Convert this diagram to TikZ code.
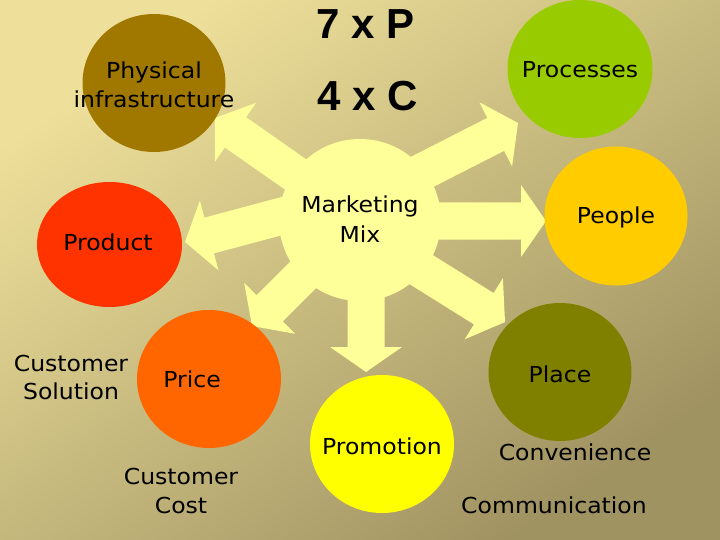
\documentclass[tikz,border=0pt]{standalone}
\usepackage{fontspec}
\setmainfont[FakeStretch=1.07]{DejaVu Sans}
\newfontfamily\titlefont{Liberation Sans}
\usetikzlibrary{shapes.geometric}
\definecolor{bgA}{RGB}{238,224,154}
\definecolor{bgB}{RGB}{160,147,98}
\definecolor{mixyel}{RGB}{255,255,153}
\definecolor{cPhys}{RGB}{160,120,0}
\definecolor{cProc}{RGB}{153,204,0}
\definecolor{cPeop}{RGB}{255,204,0}
\definecolor{cProd}{RGB}{255,51,0}
\definecolor{cPric}{RGB}{255,102,0}
\definecolor{cProm}{RGB}{255,255,0}
\definecolor{cPlac}{RGB}{128,128,0}
\newcommand\mixarrow[3]{%
  \fill[mixyel, shift={(#1,#2)}, rotate=#3]
    (0,0) -- (-25,36) -- (-25,18.5) -- (-175,18.5) -- (-175,-18.5)
    -- (-25,-18.5) -- (-25,-36) -- cycle;}
\begin{document}
\begin{tikzpicture}[x=1pt,y=-1pt,
  lbl/.style={anchor=base, inner sep=0pt, text=black,
    font=\fontsize{22}{26}\selectfont},
  ttl/.style={anchor=base, inner sep=0pt, text=black,
    font=\titlefont\bfseries\fontsize{42}{48}\selectfont},
  bubble/.style={ellipse, draw=none, inner sep=0pt}]
\useasboundingbox (0,0) rectangle (720,540);
\shade[top color=bgA, bottom color=bgB, shading angle=35] (0,0) rectangle (720,540);

% star: arrows and centre circle
\mixarrow{215}{118}{145}
\mixarrow{518}{123}{27}
\mixarrow{185}{242}{195}
\mixarrow{546}{221}{0}
\mixarrow{252}{326}{225}
\mixarrow{366}{372}{270}
\mixarrow{505}{322}{-32}
\node[circle, fill=mixyel, minimum size=162pt, inner sep=0pt] (mix) at (360,220) {};

% the seven P
\node[bubble, fill=cPhys, minimum width=143pt, minimum height=138pt] (phys) at (154,83) {};
\node[bubble, fill=cProc, minimum width=145pt, minimum height=138pt] (proc) at (580,69) {};
\node[bubble, fill=cPeop, minimum width=143pt, minimum height=139pt] (peop) at (616,216) {};
\node[bubble, fill=cProd, minimum width=145pt, minimum height=125pt] (prod) at (109.5,244.5) {};
\node[bubble, fill=cPric, minimum width=144pt, minimum height=138pt] (pric) at (209,379) {};
\node[bubble, fill=cProm, minimum width=144pt, minimum height=138pt] (prom) at (382,444) {};
\node[bubble, fill=cPlac, minimum width=143pt, minimum height=138pt] (plac) at (560,372) {};

% titles
\node[ttl] (t7p) at (366,39) {7 x P};
\node[ttl] (t4c) at (368,111) {4 x C};

% labels
\node[lbl] (lmix1) at (360,213) {Marketing};
\node[lbl] (lmix2) at (360,242) {Mix};
\node[lbl] (lphys1) at (154,79) {Physical};
\node[lbl] (lphys2) at (154,108) {infrastructure};
\node[lbl] (lproc) at (580,78) {Processes};
\node[lbl] (lpeop) at (616,223) {People};
\node[lbl] (lprod) at (108,251) {Product};
\node[lbl] (lpric) at (192,387) {Price};
\node[lbl] (lprom) at (382,454) {Promotion};
\node[lbl] (lplac) at (560,382) {Place};
\node[lbl] (lsol1) at (71,371) {Customer};
\node[lbl] (lsol2) at (71,399) {Solution};
\node[lbl] (lcost1) at (181,484) {Customer};
\node[lbl] (lcost2) at (181,513) {Cost};
\node[lbl] (lconv) at (575,460) {Convenience};
\node[lbl] (lcomm) at (554,513) {Communication};
\end{tikzpicture}
\end{document}
